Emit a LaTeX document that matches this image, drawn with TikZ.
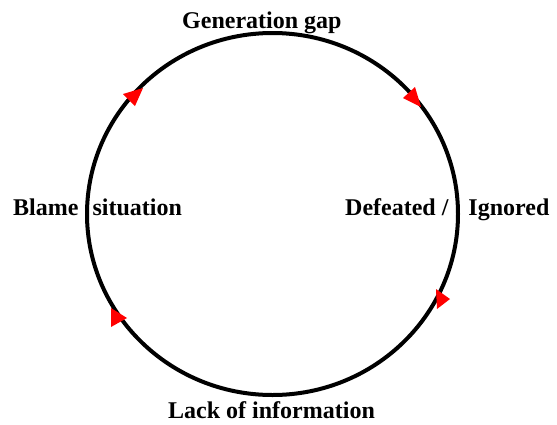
\documentclass[tikz,border=0pt]{standalone}
\usepackage{fontspec}
\setmainfont{Liberation Serif}
\tikzset{
  lbl/.style={font=\fontsize{24}{27}\selectfont\bfseries, inner sep=0pt, anchor=base west, text=black},
  tri/.style={fill=red, draw=none},
  ring/.style={draw=black, line width=4pt}
}
\begin{document}
\begin{tikzpicture}[x=1pt,y=-1pt]
\useasboundingbox (0,0) rectangle (557,424);
\draw[ring] (272.5,214) ellipse [x radius=185.5, y radius=181];
\fill[tri] (143,88) -- (123,94) -- (135,106) -- cycle;
\fill[tri] (421,107) -- (403,98) -- (415,87) -- cycle;
\fill[tri] (450,299) -- (436,289) -- (437,309) -- cycle;
\fill[tri] (127,318) -- (111,308) -- (111,327) -- cycle;
\node[lbl] (gen) at (182,28) {Generation gap};
\node[lbl] (blame) at (13,215) {Blame\hspace{14pt}situation};
\node[lbl] (def) at (345,215) {Defeated /\hspace{20pt}Ignored};
\node[lbl] (lack) at (168,418) {Lack of information};
\end{tikzpicture}
\end{document}
